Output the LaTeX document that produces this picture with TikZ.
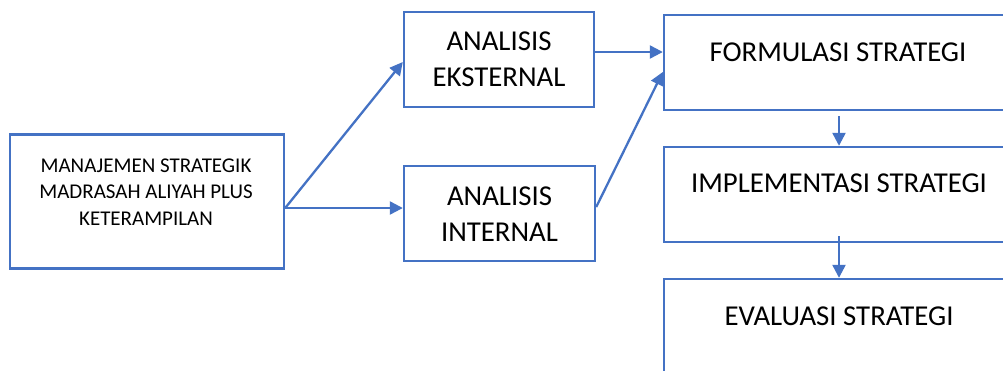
\documentclass[tikz,border=0pt]{standalone}
\usepackage{fontspec}
\setmainfont{Carlito}
\usetikzlibrary{arrows.meta}
\definecolor{boxblue}{HTML}{4472C4}
\begin{document}
\begin{tikzpicture}[x=1pt,y=-1pt,
  bx/.style={draw=boxblue,line width=2.4pt,rectangle,inner sep=0pt},
  bigtxt/.style={font=\fontsize{28.8}{36}\selectfont,align=center,inner sep=0pt,text=black},
  smalltxt/.style={font=\fontsize{21}{26.5}\selectfont,align=center,inner sep=0pt,text=black},
  conn/.style={draw=boxblue,line width=2.3pt,-{Triangle[length=13pt,width=13pt]}}]
\useasboundingbox[fill=white] (0,0) rectangle (1003,370);
% boxes
\node[bx,minimum width=274pt,minimum height=134pt] (mgmt) at (147,201.5) {};
\node[bx,minimum width=190pt,minimum height=95pt] (ext) at (499,59.5) {};
\node[bx,minimum width=191pt,minimum height=95pt] (int) at (499.5,213.5) {};
\node[bx,minimum width=350pt,minimum height=95pt] (form) at (839,62.5) {};
\node[bx,minimum width=350pt,minimum height=95pt] (impl) at (839,194.5) {};
\node[bx,minimum width=350pt,minimum height=95pt] (eval) at (839,326.5) {};
% texts
\node[smalltxt] (mgmtT) at (146,192) {MANAJEMEN STRATEGIK\\MADRASAH ALIYAH PLUS\\KETERAMPILAN};
\node[bigtxt] (extT) at (499,59) {ANALISIS\\EKSTERNAL};
\node[bigtxt] (intT) at (499.5,214) {ANALISIS\\INTERNAL};
\node[bigtxt] (formT) at (838,52.5) {FORMULASI STRATEGI};
\node[bigtxt] (implT) at (839,183) {IMPLEMENTASI STRATEGI};
\node[bigtxt] (evalT) at (839,316) {EVALUASI STRATEGI};
% connectors
\coordinate (src) at ([yshift=-6.5pt]mgmt.east);
\draw[conn] (src) -- ([yshift=-2.5pt]ext.west);
\draw[conn] (src) -- (src -| int.west);
\coordinate (extout) at ([yshift=7.5pt]ext.east);
\draw[conn] (extout) -- (extout -| form.west);
\draw[conn] ([yshift=6.5pt]int.east) -- ([yshift=-9.5pt]form.west);
\draw[conn] ([yshift=-5pt]form.south) -- (impl.north);
\draw[conn] ([yshift=7pt]impl.south) -- (eval.north);
\end{tikzpicture}
\end{document}
